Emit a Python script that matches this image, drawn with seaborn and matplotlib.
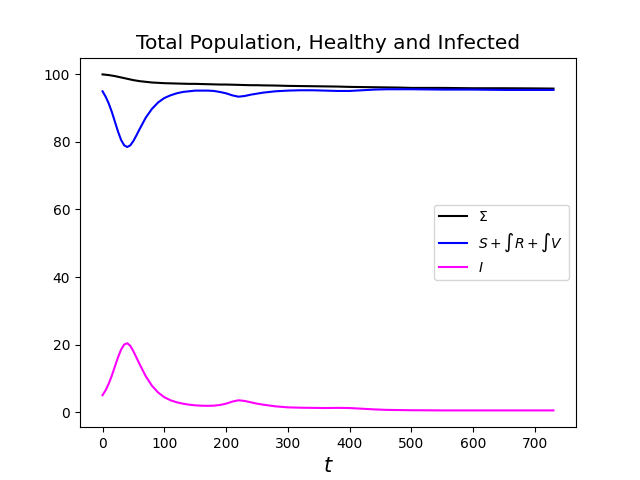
import pandas as pd
import matplotlib
matplotlib.use("Agg")
import matplotlib.pyplot as plt
import seaborn as sns

# days (2 years)
t = [0, 5, 10, 15, 20, 25, 30, 35, 40, 45, 50, 55, 60, 70, 80, 90, 100, 110, 120, 130,
     140, 150, 160, 170, 180, 190, 200, 210, 220, 230, 240, 250, 260, 280, 300, 320,
     340, 360, 380, 400, 420, 440, 460, 480, 500, 550, 600, 650, 700, 730]

total = [100.0, 99.9, 99.8, 99.65, 99.5, 99.3, 99.1, 98.9, 98.7, 98.5, 98.3, 98.15, 98.0,
         97.8, 97.6, 97.5, 97.4, 97.35, 97.3, 97.25, 97.2, 97.2, 97.15, 97.1, 97.05, 97.0,
         97.0, 96.95, 96.9, 96.85, 96.8, 96.8, 96.75, 96.7, 96.6, 96.55, 96.5, 96.45, 96.4,
         96.3, 96.25, 96.2, 96.15, 96.1, 96.0, 96.0, 95.9, 95.9, 95.85, 95.8]

healthy = [95.0, 93.4, 91.4, 88.9, 86.0, 83.1, 80.6, 79.0, 78.5, 79.0, 80.3, 82.0, 83.8,
           87.2, 89.8, 91.7, 93.0, 93.8, 94.4, 94.8, 95.0, 95.2, 95.2, 95.2, 95.1, 94.8,
           94.4, 93.8, 93.4, 93.6, 94.0, 94.3, 94.6, 95.0, 95.2, 95.3, 95.3, 95.2, 95.1,
           95.1, 95.3, 95.5, 95.6, 95.6, 95.6, 95.5, 95.5, 95.4, 95.4, 95.4]

infected = [5.0, 6.5, 8.4, 10.8, 13.5, 16.2, 18.5, 20.0, 20.4, 19.6, 18.0, 16.1, 14.2,
            10.6, 7.8, 5.8, 4.4, 3.5, 2.9, 2.5, 2.2, 2.0, 1.9, 1.85, 1.9, 2.1, 2.5, 3.1,
            3.5, 3.3, 2.9, 2.5, 2.2, 1.7, 1.4, 1.3, 1.25, 1.2, 1.25, 1.2, 1.0, 0.8, 0.65,
            0.6, 0.55, 0.5, 0.5, 0.5, 0.5, 0.5]

df = pd.DataFrame({'t': t, 'total': total, 'healthy': healthy, 'infected': infected})

fig, ax = plt.subplots(figsize=(6.4, 4.8), dpi=100)
sns.lineplot(data=df, x='t', y='total', color='black', label=r'$\Sigma$', ax=ax)
sns.lineplot(data=df, x='t', y='healthy', color='blue', label=r'$S+\int R+\int V$', ax=ax)
sns.lineplot(data=df, x='t', y='infected', color='magenta', label=r'$I$', ax=ax)

ax.set_title("Total Population, Healthy and Infected", fontsize=14.5)
ax.set_xlabel(r'$t$', fontsize=15)
ax.set_ylabel('')
ax.set_yticks([0, 20, 40, 60, 80, 100])
ax.legend(loc='center right')

plt.savefig("out.png")
